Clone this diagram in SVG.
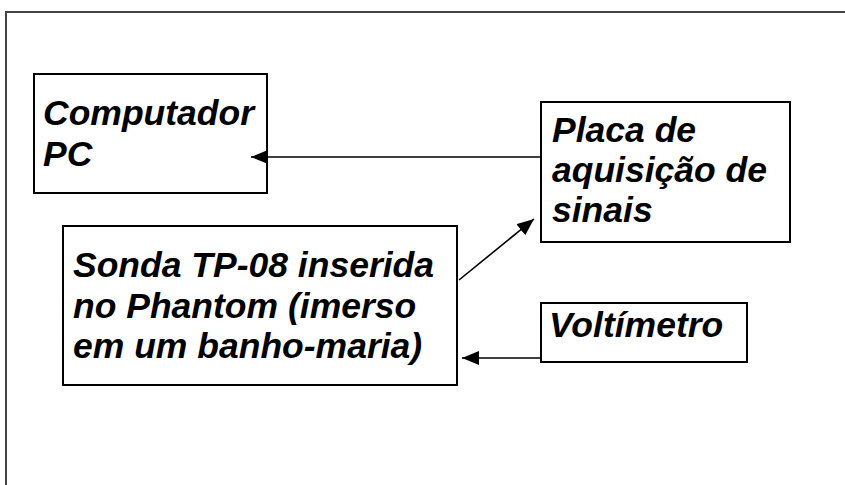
<svg xmlns="http://www.w3.org/2000/svg" width="845" height="485" viewBox="0 0 845 485">
<defs>
<style>
.box{fill:#fff;stroke:#000;stroke-width:2}
.t{font-family:"Liberation Sans",Arial,sans-serif;font-weight:bold;font-style:italic;font-size:35.5px;fill:#000}
.c{stroke:#000;stroke-width:1.6;fill:none}
</style>
<marker id="ah" markerUnits="userSpaceOnUse" markerWidth="20" markerHeight="16" refX="17" refY="7" orient="auto">
<path d="M0,0 L17,7 L0,14 z" fill="#000"/>
</marker>
</defs>
<rect width="845" height="485" fill="#fff"/>
<path d="M6,490 V12 H850" fill="none" stroke="#444" stroke-width="2"/>
<g id="computador">
<rect class="box" x="34" y="74" width="233" height="119"/>
<text class="t" x="43" y="125">Computador</text>
<text class="t" x="43" y="166">PC</text>
</g>
<g id="placa">
<rect class="box" x="541" y="102" width="249" height="140"/>
<text class="t" x="552" y="142">Placa de</text>
<text class="t" x="552" y="182">aquisição de</text>
<text class="t" x="552" y="222">sinais</text>
</g>
<g id="sonda">
<rect class="box" x="63" y="226" width="394" height="159"/>
<text class="t" x="73" y="277">Sonda TP-08 inserida</text>
<text class="t" x="73" y="318">no Phantom (imerso</text>
<text class="t" x="73" y="358">em um banho-maria)</text>
</g>
<g id="voltimetro">
<rect class="box" x="541" y="303" width="206" height="59"/>
<text class="t" x="549" y="337">Voltímetro</text>
</g>
<g id="connectors">
<path class="c" d="M540,157 H251" marker-end="url(#ah)"/>
<path class="c" d="M459,280 L534,219" marker-end="url(#ah)"/>
<path class="c" d="M541,358 H462" marker-end="url(#ah)"/>
</g>
</svg>
